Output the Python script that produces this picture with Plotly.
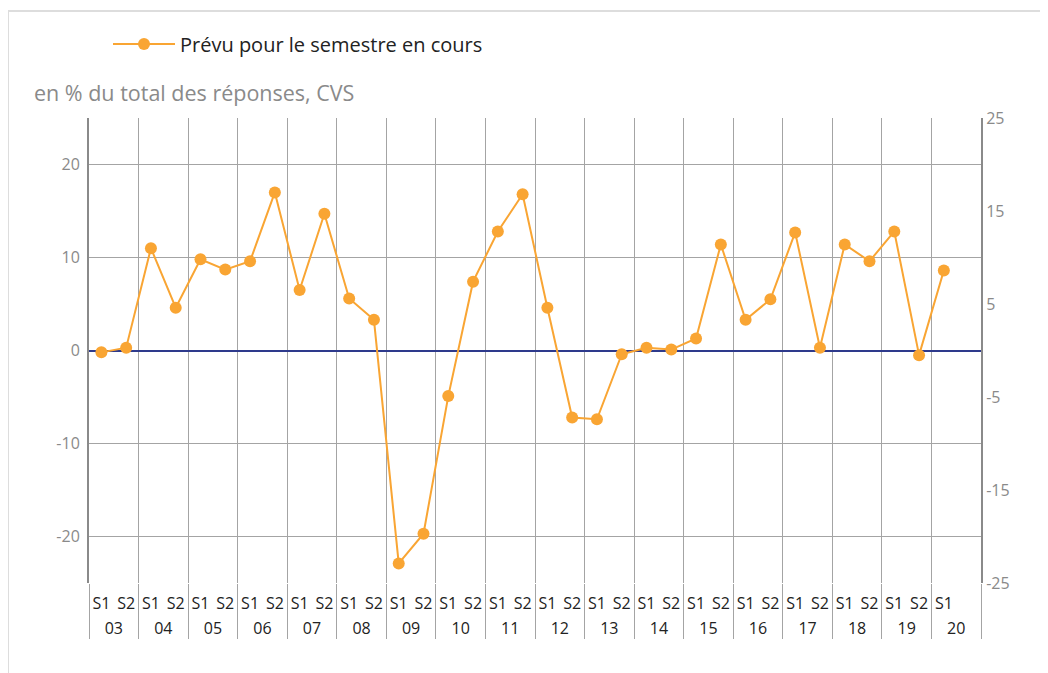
import plotly.graph_objects as go

years = ["03", "04", "05", "06", "07", "08", "09", "10", "11", "12",
         "13", "14", "15", "16", "17", "18", "19", "20"]
semesters = ["S1", "S2"]
values = [-0.2, 0.3, 11.0, 4.6, 9.8, 8.7, 9.6, 17.0, 6.5, 14.7,
          5.6, 3.3, -22.9, -19.7, -4.9, 7.4, 12.8, 16.8, 4.6, -7.2,
          -7.4, -0.4, 0.3, 0.1, 1.3, 11.4, 3.3, 5.5, 12.7, 0.3,
          11.4, 9.6, 12.8, -0.5, 8.6]
series_name = "Prévu pour le semestre en cours"
subtitle = "en % du total des réponses, CVS"
left_ticks = [-20, -10, 0, 10, 20]
right_ticks = [-25, -15, -5, 5, 15, 25]

n_sem = len(semesters)
n_slots = len(years) * n_sem          # 2020 S2 slot kept empty
sem_labels = [s for _ in years for s in semesters]
sem_labels = sem_labels[:len(values)] # no label for empty last slot
slot_idx = list(range(n_slots))
x_idx = slot_idx[:len(values)]
year_centers = [i * n_sem + (n_sem - 1) / 2 for i in range(len(years))]
year_bounds = [i * n_sem - 0.5 for i in range(len(years) + 1)]
x_range = [-0.5, n_slots - 0.5]

ORANGE = "#F9A533"
FONT = "Open Sans"
GRID = "#a4a4a4"
TICK_SIZE = 16

fig = go.Figure()
fig.add_trace(go.Scatter(
    x=x_idx, y=values, name=series_name,
    mode="lines+markers",
    line=dict(color=ORANGE, width=2),
    marker=dict(color=ORANGE, size=12),
    xaxis="x", yaxis="y",
))
# helper traces so the overlay axes are drawn
fig.add_trace(go.Scatter(x=[0], y=[None], xaxis="x2", yaxis="y2",
                         showlegend=False, hoverinfo="skip", mode="markers"))
fig.add_trace(go.Scatter(x=[0], y=[None], xaxis="x3", yaxis="y",
                         showlegend=False, hoverinfo="skip", mode="markers"))

W, H = 1048, 673
OFF = 8  # page body margin
PX_L, PX_R, PX_T, PX_B = 89, 981, 118, 583
ml = PX_L - OFF
mr = W - (PX_R - OFF)
mt = PX_T - OFF
mb = H - (PX_B - OFF)
pw = PX_R - PX_L
ph = PX_B - PX_T

def px_x(p):
    return (p - PX_L) / pw

def px_y(p):
    return 1 - (p - PX_T) / ph

fig.update_layout(
    width=W, height=H,
    margin=dict(l=ml, r=mr, t=mt, b=mb),
    paper_bgcolor="white", plot_bgcolor="white",
    font=dict(family=FONT, size=15, color="#222222"),
    showlegend=True,
    legend=dict(
        orientation="h", x=px_x(108), y=px_y(44),
        xanchor="left", yanchor="middle", itemwidth=62,
        font=dict(family=FONT, size=20, color="#222222"),
        bgcolor="rgba(0,0,0,0)",
    ),
    # semester labels
    xaxis=dict(
        range=x_range, tickvals=x_idx, ticktext=sem_labels,
        showgrid=False, zeroline=False, showline=False,
        ticks="", tickangle=0, ticklabelstandoff=9,
        tickfont=dict(family=FONT, size=TICK_SIZE, color="#222222"),
    ),
    # year labels
    xaxis2=dict(
        overlaying="x", anchor="y2", side="bottom", range=x_range,
        tickvals=year_centers, ticktext=years,
        showgrid=False, zeroline=False, showline=False,
        ticks="", tickangle=0, ticklabelstandoff=34,
        tickfont=dict(family=FONT, size=TICK_SIZE, color="#222222"),
    ),
    # year dividers: grid lines + long outside ticks
    xaxis3=dict(
        overlaying="x", anchor="y", side="bottom", range=x_range,
        tickvals=year_bounds, showticklabels=False,
        showgrid=True, gridcolor=GRID, gridwidth=1,
        zeroline=False, showline=False,
        ticks="outside", ticklen=55, tickcolor=GRID, tickwidth=1,
    ),
    yaxis=dict(
        range=[-25, 25], tickvals=left_ticks,
        ticktext=[str(v) for v in left_ticks], showgrid=True,
        gridcolor=GRID, gridwidth=1,
        zeroline=True, zerolinecolor="#2E3A8C", zerolinewidth=2,
        showline=True, linecolor="#8a8a8a", linewidth=2,
        ticks="", ticklabelstandoff=4,
        tickfont=dict(family=FONT, size=TICK_SIZE, color="#8a8a8a"),
    ),
    yaxis2=dict(
        overlaying="y", side="right", anchor="x2", range=[-25, 25],
        tickvals=right_ticks, ticktext=[str(v) for v in right_ticks],
        showgrid=False, zeroline=False,
        showline=True, linecolor="#8a8a8a", linewidth=2, ticks="",
        tickfont=dict(family=FONT, size=TICK_SIZE, color="#8a8a8a"),
    ),
    annotations=[dict(
        text=subtitle, xref="paper", yref="paper",
        x=px_x(32), y=px_y(92), xanchor="left", yanchor="middle",
        showarrow=False, font=dict(family=FONT, size=21.5, color="#8a8a8a"),
    )],
    shapes=[dict(
        type="rect", xref="paper", yref="paper",
        x0=px_x(8), x1=px_x(1070), y0=px_y(700), y1=px_y(11),
        line=dict(color="#dddddd", width=2), fillcolor="rgba(0,0,0,0)",
        layer="below",
    )],
)

fig.write_html("out.html")
